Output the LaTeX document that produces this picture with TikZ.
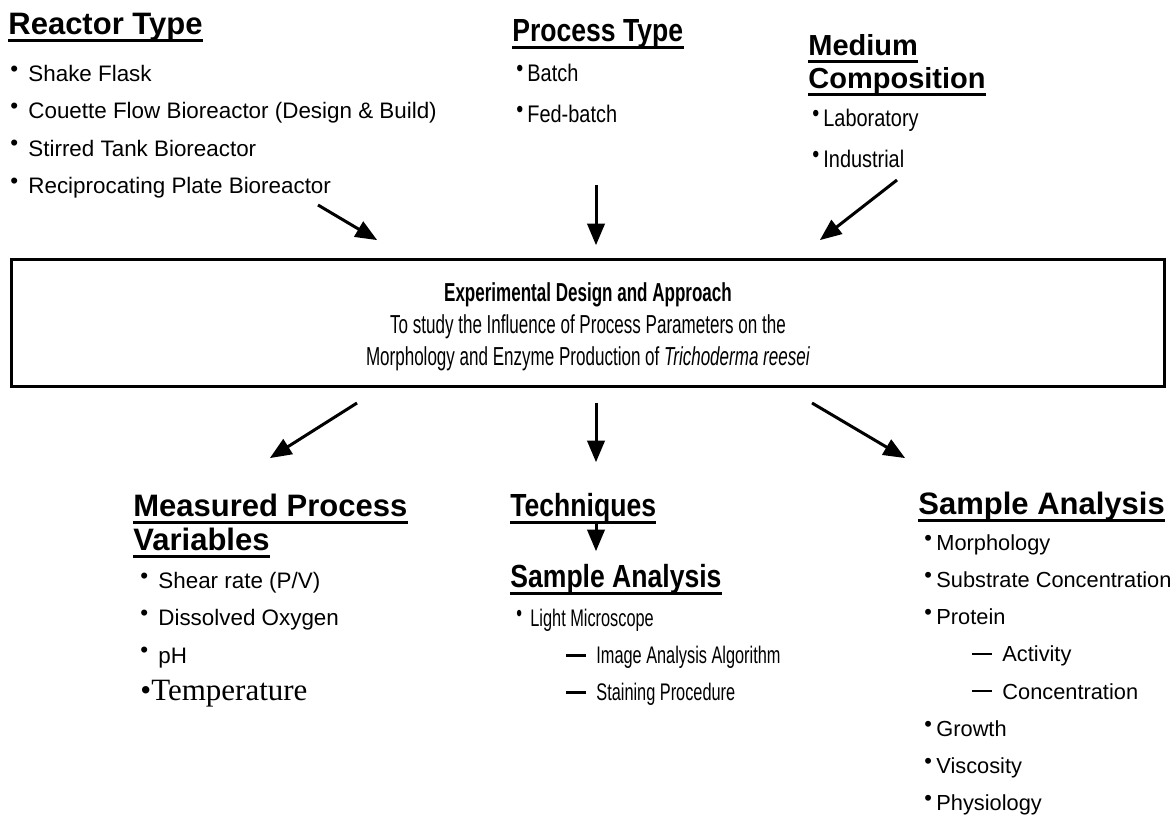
\documentclass[tikz,border=0pt]{standalone}
\usepackage{fontspec}
\setmainfont{Liberation Sans}
\newfontfamily\narrowfont[FakeStretch=0.83]{Liberation Sans}
\newfontfamily\condfont[FakeStretch=0.68]{Liberation Sans}
\newfontfamily\boxfont[FakeStretch=0.655]{Liberation Sans}
\newfontfamily\timesfont{Liberation Serif}
\usetikzlibrary{arrows, positioning}

% raised bullet and indented dash for the lists
\newcommand{\bul}[1][9pt]{\makebox[#1][l]{\raisebox{2.6pt}{•}}\ignorespaces}
\newcommand{\subdash}[1]{\hspace*{#1}\makebox[15pt][l]{\rule[0.3em]{10pt}{1.1pt}}\ignorespaces}

\tikzset{
  heading/.style={font=\fontsize{15.5}{17}\selectfont\bfseries, inner sep=0pt, anchor=base west},
  narrowhead/.style={heading, font=\narrowfont\fontsize{16}{17}\selectfont\bfseries},
  items/.style={font=\fontsize{11.2}{18.6}\selectfont, inner sep=0pt, align=left,
    anchor=north west, execute at begin node=\rule{0pt}{10pt}},
  narrowitems/.style={items, font=\narrowfont\fontsize{12}{20.3}\selectfont},
  conditems/.style={items, font=\condfont\fontsize{12}{18.5}\selectfont},
  boxtext/.style={inner sep=0pt, align=center, font=\boxfont\fontsize{13}{16}\selectfont},
  uline/.style={line width=1.5pt},
  flow/.style={line width=1.5pt, -triangle 45},
}

\begin{document}
\begin{tikzpicture}[x=0.5pt, y=-0.5pt]
\useasboundingbox (0,0) rectangle (1176,837);

% inputs
\node[heading] (reactor) at (8,34) {Reactor Type};
\node[items] (reactorlist) at (10,65) {\bul Shake Flask\\ \bul Couette Flow Bioreactor (Design \& Build)\\
  \bul Stirred Tank Bioreactor\\ \bul Reciprocating Plate Bioreactor};

\node[narrowhead] (process) at (512,41) {Process Type};
\node[narrowitems] (processlist) at (516,64) {\bul[5.5pt] Batch\\ \bul[5.5pt] Fed-batch};

\node[heading, font=\fontsize{14.5}{16}\selectfont\bfseries] (medium) at (808,55) {Medium};
\node[heading, font=\fontsize{14.5}{16}\selectfont\bfseries] (compo) at (808,88) {Composition};
\node[narrowitems] (mediumlist) at (812,109) {\bul[5.5pt] Laboratory\\ \bul[5.5pt] Industrial};

% central box
\node[draw, line width=1.5pt, minimum width=576.5pt, minimum height=63.5pt] (design) at (588,323) {};
\node[boxtext, yshift=-1.8pt] (designtext) at (design.center)
  {{\bfseries Experimental Design and Approach}\\
   To study the Influence of Process Parameters on the\\
   Morphology and Enzyme Production of \emph{Trichoderma reesei}};

% outputs
\node[heading] (measured) at (133,516) {Measured Process};
\node[heading] (variables) at (133,550) {Variables};
\node[items] (measuredlist) at (140,572) {\bul Shear rate (P/V)\\ \bul Dissolved Oxygen\\ \bul pH\\
  {\timesfont\fontsize{15.5}{18.6}\selectfont •Temperature}};

\node[narrowhead] (techniques) at (510,516) {Techniques};
\node[narrowhead] (sampleleft) at (510,587) {Sample Analysis};
\node[conditems] (samplelist) at (516,609) {\bul[7pt] Light Microscope\\ \subdash{25pt}Image Analysis Algorithm\\
  \subdash{25pt}Staining Procedure};

\node[heading] (sampleright) at (918,514) {Sample Analysis};
\node[items, font=\fontsize{10.9}{18.6}\selectfont] (samplerightlist) at (924,534) {\bul[6pt] Morphology\\
  \bul[6pt] Substrate Concentration\\ \bul[6pt] Protein\\ \subdash{24pt}Activity\\ \subdash{24pt}Concentration\\
  \bul[6pt] Growth\\ \bul[6pt] Viscosity\\ \bul[6pt] Physiology};

\foreach \h in {reactor,process,medium,compo,measured,variables,techniques,sampleleft,sampleright}
  \draw[uline] ([yshift=-3pt]\h.base west) -- ([yshift=-3pt]\h.base east);

% arrow ends
\coordinate (fromreactor) at (318,205);
\coordinate (fromprocess) at (596,185);
\coordinate (frommedium) at (897,180);
\coordinate (inleft) at (377,240);
\coordinate (inmid) at (596,245);
\coordinate (inright) at (820,240);
\coordinate (outleft) at (357,403);
\coordinate (outmid) at (596,403);
\coordinate (outright) at (812,403);
\coordinate (tomeasured) at (270,458);
\coordinate (totechniques) at (596,462);
\coordinate (tosample) at (905,458);
\coordinate (techout) at (596,524);
\coordinate (techin) at (596,551);

\draw[flow] (fromreactor) -- (inleft);
\draw[flow] (fromprocess) -- (inmid);
\draw[flow] (frommedium) -- (inright);
\draw[flow] (outleft) -- (tomeasured);
\draw[flow] (outmid) -- (totechniques);
\draw[flow] (outright) -- (tosample);
\draw[flow] (techout) -- (techin);
\end{tikzpicture}
\end{document}
